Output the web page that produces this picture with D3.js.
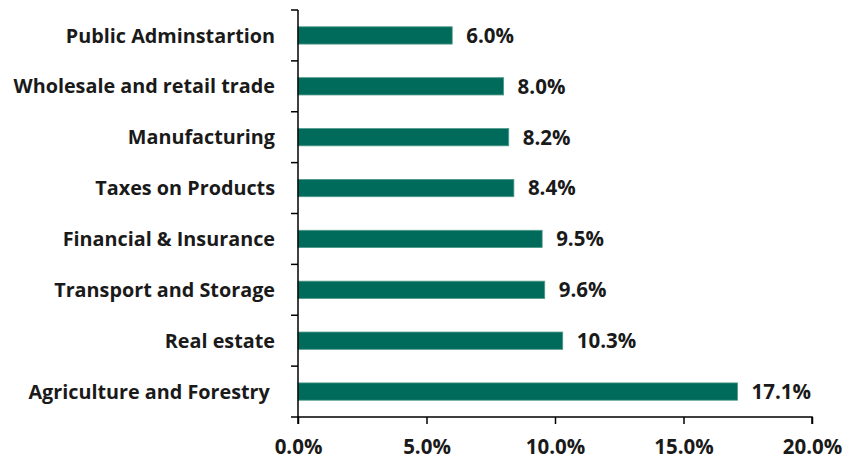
<!DOCTYPE html>
<html>
<head>
<meta charset="utf-8">
<script src="https://cdn.jsdelivr.net/npm/d3@7"></script>
<style>
body{margin:0;background:#fff;}
text{font-family:"Open Sans",sans-serif;font-weight:bold;fill:#1a1a1a;white-space:pre;}
</style>
</head>
<body>
<svg id="chart" width="844" height="459"></svg>
<script>
var categories = ["Public Adminstartion","Wholesale and retail trade","Manufacturing","Taxes on Products","Financial & Insurance","Transport and Storage","Real estate","Agriculture and Forestry "];
var values = [6.0, 8.0, 8.2, 8.4, 9.5, 9.6, 10.3, 17.1];
var xTicks = [0, 5, 10, 15, 20];

var svg = d3.select("#chart");
var mLeft = 298, mRight = 812, mTop = 10, mBottom = 417;
var fsCat = "19.8px", fsNum = "20.5px";

var x = d3.scaleLinear().domain([0,20]).range([mLeft,mRight]);
var y = d3.scaleBand().domain(categories).range([mTop,mBottom]).paddingInner(0.66).paddingOuter(0.33);

svg.selectAll("rect.bar")
	.data(values)
	.enter()
	.append("rect")
	.attr("class","bar")
	.attr("x",x(0))
	.attr("y",function(d,i){ return y(categories[i]); })
	.attr("width",function(d){ return x(d)-x(0); })
	.attr("height",y.bandwidth())
	.attr("fill","#006b5a")
	.attr("stroke","#4f9a89")
	.attr("stroke-width",0.8);

svg.selectAll("text.val")
	.data(values)
	.enter()
	.append("text")
	.attr("class","val")
	.attr("x",function(d){ return x(d)+14; })
	.attr("y",function(d,i){ return y(categories[i])+y.bandwidth()/2; })
	.attr("dy","0.36em")
	.style("font-size",fsNum)
	.text(function(d){ return d.toFixed(1)+"%"; });

// y axis with ticks between categories
var yAxisG = svg.append("g");
yAxisG.append("line").attr("x1",mLeft).attr("x2",mLeft).attr("y1",mTop).attr("y2",mBottom).attr("stroke","#000").attr("stroke-width",1.5);
var step = y.step();
yAxisG.selectAll("line.tick")
	.data(d3.range(categories.length+1))
	.enter()
	.append("line")
	.attr("x1",mLeft-7).attr("x2",mLeft)
	.attr("y1",function(i){ return mTop+i*step; })
	.attr("y2",function(i){ return mTop+i*step; })
	.attr("stroke","#000").attr("stroke-width",1.5);
yAxisG.selectAll("text.cat")
	.data(categories)
	.enter()
	.append("text")
	.attr("class","cat")
	.attr("x",mLeft-23)
	.attr("y",function(d){ return y(d)+y.bandwidth()/2; })
	.attr("dy","0.36em")
	.attr("text-anchor","end")
	.style("font-size",fsCat)
	.text(function(d){ return d; });

// x axis
var xAxis = d3.axisBottom(x).tickValues(xTicks).tickSize(7).tickPadding(15)
	.tickFormat(function(d){ return d.toFixed(1)+"%"; });
var xg = svg.append("g").attr("transform","translate(0,"+mBottom+")").call(xAxis);
xg.select(".domain").attr("stroke","#000").attr("stroke-width",1.5).attr("d","M"+mLeft+",7V0H"+mRight+"V7");
xg.selectAll(".tick line").attr("stroke","#000").attr("stroke-width",1.5);
xg.selectAll(".tick text").style("font-size",fsNum).attr("fill","#1a1a1a").style("font-family","'Open Sans',sans-serif");
</script>
</body>
</html>
